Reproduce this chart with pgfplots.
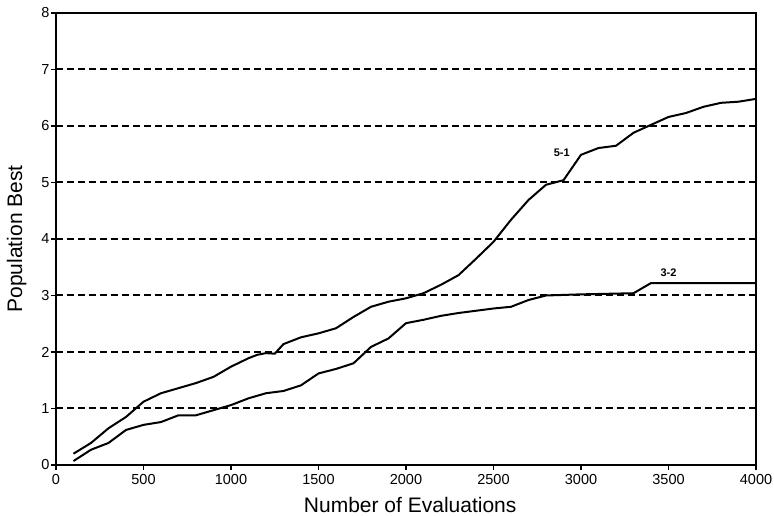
\documentclass[border=0pt]{standalone}
\usepackage{fontspec}
\setmainfont{Liberation Sans}
\usepackage{pgfplots}
\pgfplotsset{compat=1.18}
\begin{document}
\begin{tikzpicture}
\begin{axis}[
  scale only axis, width=700pt, height=452pt,
  xmin=0, xmax=4000, ymin=0, ymax=8,
  xtick={0,500,...,4000}, ytick={0,1,...,8},
  axis line style={line width=2pt},
  tick style={line width=1.5pt, black},
  major tick length=5pt,
  tick align=outside, xtick pos=bottom, ytick pos=left,
  ymajorgrids, grid style={black, line width=2pt, dash pattern=on 7pt off 4pt},
  /pgf/number format/assume math mode=true,
  /pgf/number format/1000 sep={},
  tick label style={font=\fontsize{14.5}{16}\selectfont},
  xticklabel style={yshift=-1pt},
  yticklabel style={xshift=2pt},
  xlabel={Number of Evaluations}, ylabel={Population Best},
  every axis x label/.style={at={(axis description cs:0.506,-0.088)}, anchor=center, font=\fontsize{21}{24}\selectfont},
  every axis y label/.style={at={(axis description cs:-0.056,0.5)}, anchor=center, rotate=90, font=\fontsize{21}{24}\selectfont},
  clip=false,
]
\addplot[black, line width=2pt] coordinates {
(100,0.2) (200,0.39) (300,0.65) (400,0.85) (500,1.12) (600,1.27) (700,1.36) (800,1.45) (900,1.56) (1000,1.74) (1100,1.89) (1150,1.95) (1200,1.98) (1250,1.97) (1300,2.14) (1400,2.26) (1500,2.33) (1600,2.42) (1700,2.62) (1800,2.80) (1900,2.89) (2000,2.95) (2100,3.04) (2200,3.19) (2300,3.36) (2400,3.65) (2500,3.95) (2600,4.34) (2700,4.69) (2800,4.96) (2900,5.04) (3000,5.49) (3100,5.61) (3200,5.65) (3300,5.88) (3400,6.02) (3500,6.16) (3600,6.23) (3700,6.34) (3800,6.41) (3900,6.43) (4000,6.48)
};
\addplot[black, line width=2pt] coordinates {
(100,0.07) (200,0.27) (300,0.39) (400,0.62) (500,0.71) (600,0.76) (700,0.88) (800,0.88) (900,0.97) (1000,1.06) (1100,1.18) (1200,1.27) (1300,1.31) (1400,1.41) (1500,1.62) (1600,1.70) (1700,1.80) (1800,2.09) (1900,2.24) (2000,2.51) (2100,2.57) (2200,2.64) (2300,2.69) (2400,2.73) (2500,2.77) (2600,2.80) (2700,2.92) (2800,3.0) (3000,3.02) (3300,3.04) (3400,3.22) (4000,3.22)
};
\node[font=\bfseries\fontsize{11}{12}\selectfont] at (axis cs:2890,5.52) {5-1};
\node[font=\bfseries\fontsize{11}{12}\selectfont] at (axis cs:3500,3.4) {3-2};
\end{axis}
\pgfresetboundingbox
\path (current axis.south west) ++(-56pt,-51pt) rectangle ([shift={(18pt,13pt)}]current axis.north east);
\end{tikzpicture}
\end{document}
